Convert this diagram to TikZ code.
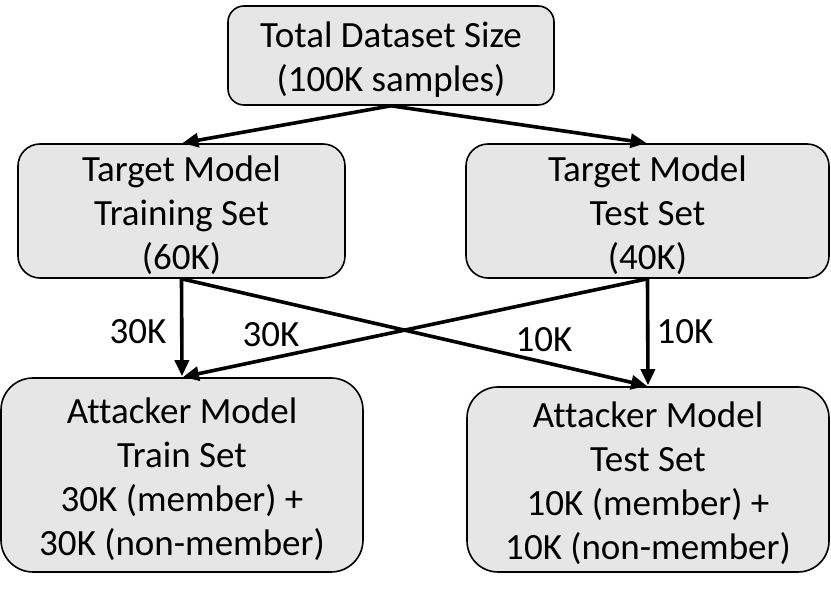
\documentclass[tikz,border=0pt]{standalone}
\usepackage{fontspec}
\setmainfont[Ligatures=NoCommon]{Carlito}
\usetikzlibrary{arrows.meta}
\definecolor{boxfill}{HTML}{E6E6E6}
\newcommand{\tstrut}{\rule{0pt}{34pt}}
\tikzset{
  box/.style={draw=black, line width=1.6pt, fill=boxfill, align=center,
    inner sep=0pt, font=\fontsize{37}{44}\selectfont},
  conn/.style={line width=3.6pt, -{Triangle[length=16pt,width=14pt]}, shorten >=1pt},
  lbl/.style={font=\fontsize{37}{44}\selectfont, inner sep=0pt},
}
\begin{document}
\begin{tikzpicture}[x=1pt,y=-1pt]
\useasboundingbox (0,0) rectangle (831,593);
\node[box, minimum width=326pt, minimum height=99pt, rounded corners=16pt] (top) at (391,55.5)
  {\tstrut Total Dataset Size\\(100K samples)};
\node[box, minimum width=327pt, minimum height=134pt, rounded corners=22pt] (tl) at (181.5,211)
  {\tstrut Target Model\\Training Set\\(60K)};
\node[box, minimum width=363pt, minimum height=134pt, rounded corners=22pt] (tr) at (647.5,211)
  {\tstrut Target Model\\Test Set\\(40K)};
\node[box, minimum width=362pt, minimum height=194pt, rounded corners=32pt] (bl) at (182,475)
  {\tstrut Attacker Model\\Train Set\\30K (member) +\\30K (non-member)};
\node[box, minimum width=362pt, minimum height=185pt, rounded corners=31pt] (br) at (648,479.5)
  {\tstrut Attacker Model\\Test Set\\10K (member) +\\10K (non-member)};
\draw[conn] (top.south) -- (tl.north);
\draw[conn] (top.south) -- (tr.north);
\draw[conn] (tl.south) -- (bl.north);
\draw[conn] (tl.south) -- (br.north);
\draw[conn] (tr.south) -- (br.north);
\draw[conn] (tr.south) -- (bl.north);
\node[lbl] (l1) at (138,332) {30K};
\node[lbl] (l2) at (271,335) {30K};
\node[lbl] (l3) at (544,340) {10K};
\node[lbl] (l4) at (685,332) {10K};
\end{tikzpicture}
\end{document}
